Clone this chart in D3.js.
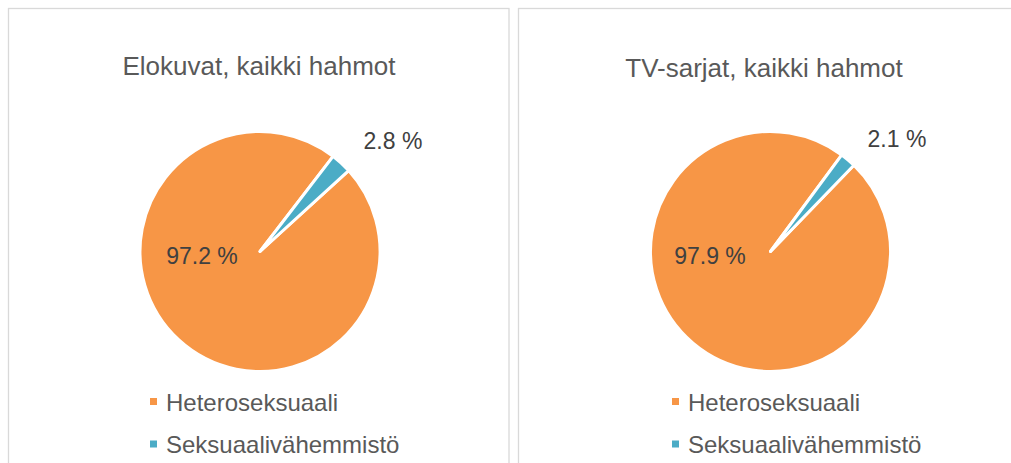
<!DOCTYPE html>
<html>
<head>
<meta charset="utf-8">
<script src="https://cdnjs.cloudflare.com/ajax/libs/d3/7.8.5/d3.min.js"></script>
<style>
  html, body { margin: 0; padding: 0; background: #fff; }
  svg { display: block; font-family: "Liberation Sans", Arial, sans-serif; }
</style>
</head>
<body>
<div id="chart"></div>
<script>
// Data
const categories = ["Heteroseksuaali", "Seksuaalivähemmistö"];
const chartTitles = ["Elokuvat, kaikki hahmot", "TV-sarjat, kaikki hahmot"];
const moviesValues = [97.2, 2.8];
const tvValues = [97.9, 2.1];
const colors = ["#F79646", "#4BACC6"];

const width = 1011, height = 463;
const svg = d3.select("#chart").append("svg")
  .attr("width", width)
  .attr("height", height);

// Layout for each panel (first slice angle in degrees, like Excel)
const panels = [
  { x: 8.5, title: chartTitles[0], values: moviesValues, cx: 260, titleX: 259, titleY: 75,
    rotation: 47.6, smallLabel: [393, 149], bigLabel: [202, 264], legendX: 150 },
  { x: 518.5, title: chartTitles[1], values: tvValues, cx: 770.5, titleX: 764, titleY: 77,
    rotation: 44, smallLabel: [897, 147], bigLabel: [710, 264], legendX: 672 }
];

const radius = 120;
const cy = 251.5;

panels.forEach(p => {
  const g = svg.append("g");

  // panel border (open at the bottom / right edge of the window)
  g.append("rect")
    .attr("x", p.x)
    .attr("y", 8.5)
    .attr("width", 500.5)
    .attr("height", 480)
    .attr("fill", "#fff")
    .attr("stroke", "#d9d9d9")
    .attr("stroke-width", 1.3);

  g.append("text")
    .attr("x", p.titleX)
    .attr("y", p.titleY)
    .attr("text-anchor", "middle")
    .attr("fill", "#595959")
    .style("font-size", "26px")
    .text(p.title);

  const rot = p.rotation * Math.PI / 180;
  const pie = d3.pie().sort(null)
    .startAngle(rot)
    .endAngle(rot + 2 * Math.PI);
  const arcs = pie(p.values);
  const arc = d3.arc().innerRadius(0).outerRadius(radius);

  g.append("g")
    .attr("transform", `translate(${p.cx},${cy})`)
    .selectAll("path")
    .data(arcs)
    .enter()
    .append("path")
    .attr("d", arc)
    .attr("fill", (d, i) => colors[i])
    .attr("stroke", "#fff")
    .attr("stroke-width", 3)
    .attr("stroke-linejoin", "round");

  // data labels
  const labelPos = [p.bigLabel, p.smallLabel];
  p.values.forEach((v, i) => {
    g.append("text")
      .attr("x", labelPos[i][0])
      .attr("y", labelPos[i][1])
      .attr("text-anchor", "middle")
      .attr("fill", "#404040")
      .style("font-size", "23px")
      .text(v.toFixed(1) + " %");
  });

  // legend
  categories.forEach((c, i) => {
    const ly = 410.5 + i * 42.5;
    g.append("rect")
      .attr("x", p.legendX)
      .attr("y", ly - 12.5)
      .attr("width", 7)
      .attr("height", 7)
      .attr("fill", colors[i]);
    g.append("text")
      .attr("x", p.legendX + 16)
      .attr("y", ly)
      .attr("fill", "#595959")
      .style("font-size", "24px")
      .text(c);
  });
});
</script>
</body>
</html>
